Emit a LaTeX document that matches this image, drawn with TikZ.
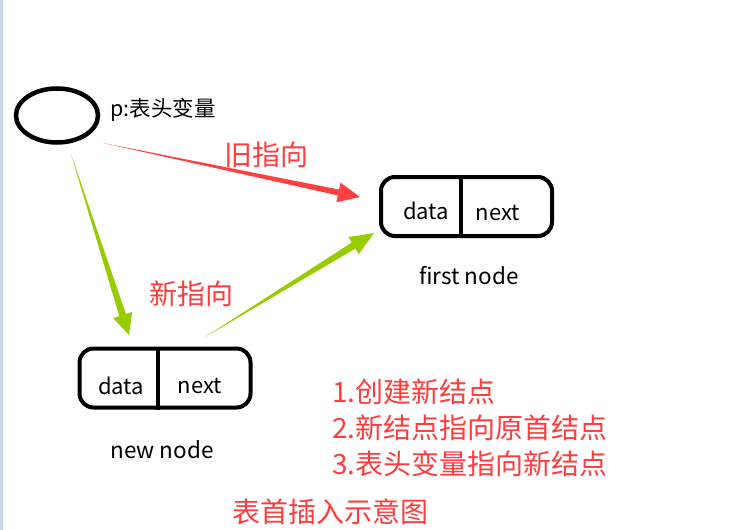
\documentclass[tikz,border=0pt]{standalone}
\usepackage{fontspec}
\setmainfont{Noto Sans CJK SC}
\usetikzlibrary{calc,shapes.geometric}
\definecolor{arrowred}{HTML}{FF4040}
\definecolor{textred}{HTML}{FF3C3C}
\definecolor{arrowgreen}{HTML}{99CC00}
\definecolor{edgeblue}{HTML}{C9D5E8}

% tapered arrow: colour, tail, tip, head length, head half width, shaft half width
\newcommand{\fatarrow}[6]{%
  \fill[#1] (#2) -- ($($(#3)!#4!(#2)$)!#6!90:(#2)$)
    -- ($($(#3)!#4!(#2)$)!#5!90:(#2)$) -- (#3)
    -- ($($(#3)!#4!(#2)$)!#5!-90:(#2)$)
    -- ($($(#3)!#4!(#2)$)!#6!-90:(#2)$) -- cycle;}

\begin{document}
\begin{tikzpicture}[
  x=1pt, y=-1pt,
  cellbox/.style={draw, line width=4pt, rounded corners=14pt, minimum width=171pt, minimum height=59pt, inner sep=0pt},
  cellline/.style={line width=4pt},
  field/.style={font=\fontsize{22}{22}\selectfont, inner sep=0pt},
  caption/.style={font=\fontsize{22.5}{22.5}\selectfont, inner sep=0pt},
  note/.style={text=textred, font=\fontsize{28}{28}\selectfont, inner sep=0pt},
  steps/.style={text=textred, font=\fontsize{28}{36}\selectfont, inner sep=0pt, align=left, anchor=north west}
]
  \useasboundingbox (0,0) rectangle (753,530);
  \fill[edgeblue] (0,0) rectangle (3,530);

  % head variable
  \node[draw, ellipse, line width=4.5pt, minimum width=82pt, minimum height=54pt, inner sep=0pt] (head) at (57,115.5) {};
  \node[caption, font=\fontsize{21.5}{21.5}\selectfont, anchor=west] (headlbl) at (110,110) {p:表头变量};

  % first node
  \node[cellbox] (first) at (466.5,206.5) {};
  \draw[cellline] ([xshift=-6pt]first.north) -- ([xshift=-6pt]first.south);
  \node[field] (fdata) at (426,211) {data};
  \node[field] (fnext) at (498,213) {next};
  \node[caption] (firstlbl) at (469,276) {first node};

  % new node
  \node[cellbox] (new) at (165,378) {};
  \draw[cellline] ([xshift=-7pt]new.north) -- ([xshift=-7pt]new.south);
  \node[field] (ndata) at (121,386) {data};
  \node[field] (nnext) at (200,386) {next};
  \node[caption] (newlbl) at (162,450) {new node};

  % arrows
  \coordinate (oldtail) at (103,143);
  \coordinate (oldtip) at (360,197);
  \coordinate (newtail) at (71,154);
  \coordinate (newtip) at (129,335);
  \coordinate (linktail) at (205,337);
  \coordinate (linktip) at (374,233);
  \fatarrow{arrowred}{oldtail}{oldtip}{22pt}{10pt}{3pt}
  \fatarrow{arrowgreen}{newtail}{newtip}{21pt}{10pt}{3.5pt}
  \fatarrow{arrowgreen}{linktail}{linktip}{24pt}{10pt}{3.5pt}

  \node[note] (oldlbl) at (266,155) {旧指向};
  \node[note] (newptr) at (191,294) {新指向};

  % steps
  \node[steps] (steplist) at (332,379) {1.创建新结点\\2.新结点指向原首结点\\3.表头变量指向新结点};
  \node[note] (title) at (330,512) {表首插入示意图};
\end{tikzpicture}
\end{document}
